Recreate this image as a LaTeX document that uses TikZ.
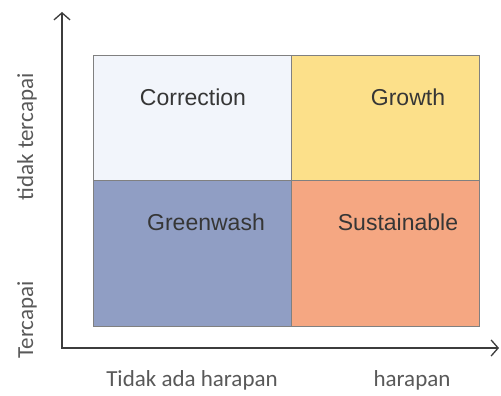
\documentclass[tikz,border=0pt]{standalone}
\usepackage{fontspec}
\setmainfont{Carlito}
\newfontfamily\arialfont{Liberation Sans}
\usetikzlibrary{arrows.meta}
\definecolor{corrfill}{RGB}{242,245,251}
\definecolor{growfill}{RGB}{252,224,138}
\definecolor{washfill}{RGB}{144,158,196}
\definecolor{sustfill}{RGB}{245,167,130}
\definecolor{ink}{RGB}{60,60,60}
\begin{document}
\begin{tikzpicture}[x=1pt,y=-1pt,
    axis/.style={draw=ink,line width=1.3pt,{Straight Barb[length=7pt,width=16pt]}-{Straight Barb[length=7pt,width=16pt]}},
    quad/.style={anchor=base,font=\arialfont\fontsize{23}{26}\selectfont,text=ink!90!black},
    axlabel/.style={anchor=base,font=\fontsize{23}{26}\selectfont,text=ink!85!white}]
    \useasboundingbox (0,0) rectangle (501,396);
    \fill[corrfill] (93,56) rectangle (291,180);
    \fill[growfill] (291,56) rectangle (479,180);
    \fill[washfill] (93,180) rectangle (291,326);
    \fill[sustfill] (291,180) rectangle (479,326);
    \draw[gray,line width=1pt] (93,56) rectangle (479,326) (291,56)--(291,326) (93,180)--(479,180);
    %        1           2           3          4
    \foreach \q/\t [count=\i from 1] in {{(193,106)}/Correction,{(408,106)}/Growth,{(206,230)}/Greenwash,{(398,230)}/Sustainable}
      {\node[quad] (q\i) at \q {\t};}
    \coordinate (o) at (62,348);
    \coordinate (ytop) at (62,12);
    \coordinate (xend) at (499,348);
    \draw[axis] (ytop)--(o)--(xend);
    \node[axlabel] (x1) at (192,386) {Tidak ada harapan};
    \node[axlabel] (x2) at (412,386) {harapan};
    \node[axlabel,rotate=90] (y1) at (33,137) {tidak tercapai};
    \node[axlabel,rotate=90] (y2) at (33,320) {Tercapai};
  \end{tikzpicture}
\end{document}
